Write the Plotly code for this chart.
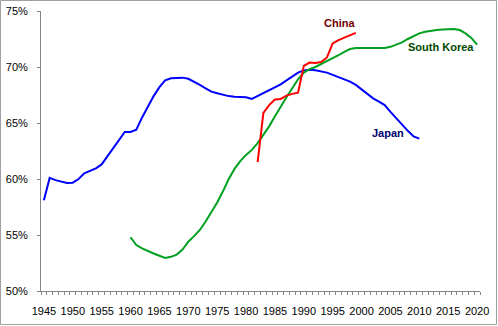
import plotly.graph_objects as go

japan_years = list(range(1945, 2011))
japan_vals = [58.1, 60.1, 59.9, 59.8, 59.65, 59.67, 60.0, 60.5, 60.75, 60.95,
              61.3, 62.0, 62.7, 63.5, 64.2, 64.2, 64.4, 65.5, 66.5, 67.4,
              68.2, 68.8, 69.0, 69.05, 69.05, 68.95, 68.7, 68.4, 68.1, 67.8,
              67.65, 67.5, 67.4, 67.35, 67.35, 67.3, 67.15, 67.4, 67.65, 67.95,
              68.15, 68.45, 68.8, 69.15, 69.5, 69.7, 69.75, 69.7, 69.6, 69.5,
              69.3, 69.1, 68.9, 68.7, 68.4, 68.0, 67.6, 67.2, 66.9, 66.6,
              66.0, 65.4, 64.9, 64.3, 63.8, 63.6]

china_years = list(range(1982, 2000))
china_vals = [61.5, 65.9, 66.6, 67.1, 67.15, 67.45, 67.6, 67.7, 70.1, 70.4,
              70.35, 70.45, 70.85, 72.1, 72.4, 72.6, 72.85, 73.05]

korea_years = list(range(1960, 2021))
korea_vals = [54.8, 54.1, 53.8, 53.55, 53.35, 53.15, 52.95, 53.05, 53.25, 53.7,
              54.4, 54.9, 55.45, 56.2, 57.0, 57.9, 58.9, 60.0, 60.9, 61.6,
              62.15, 62.6, 63.2, 63.9, 64.7, 65.6, 66.5, 67.3, 68.1, 68.9,
              69.5, 69.8, 70.0, 70.25, 70.5, 70.8, 71.05, 71.35, 71.6, 71.7,
              71.7, 71.65, 71.65, 71.65, 71.7, 71.8, 72.0, 72.2, 72.5, 72.75,
              73.0, 73.15, 73.25, 73.3, 73.35, 73.4, 73.4, 73.3, 73.0, 72.6,
              72.0]

x_ticks = list(range(1945, 2021, 5))
y_ticks = [50, 55, 60, 65, 70, 75]
y_labels = [f"{v}%" for v in y_ticks]

fig = go.Figure()
fig.add_trace(go.Scatter(x=japan_years, y=japan_vals, mode="lines",
                         line=dict(color="#0000FF", width=2), name="Japan"))
fig.add_trace(go.Scatter(x=korea_years, y=korea_vals, mode="lines",
                         line=dict(color="#00A020", width=2), name="South Korea"))
fig.add_trace(go.Scatter(x=china_years, y=china_vals, mode="lines",
                         line=dict(color="#FF0000", width=2), name="China"))

font = dict(family="Liberation Sans, Arial, sans-serif", size=11, color="#000000")

annots = [
    dict(x=1996.2, y=73.9, text="<b>China</b>", color="#700000"),
    dict(x=2013.7, y=71.75, text="<b>South Korea</b>", color="#004800"),
    dict(x=2004.5, y=64.1, text="<b>Japan</b>", color="#000070"),
]
for a in annots:
    fig.add_annotation(x=a["x"], y=a["y"], text=a["text"], showarrow=False,
                       xref="x", yref="y",
                       font=dict(family="Liberation Sans, Arial, sans-serif",
                                 size=11, color=a["color"]))

# outer chart border (paper coords relative to plot area 41..480 x 11..291)
fig.add_shape(type="rect", xref="paper", yref="paper",
              x0=(0.5 - 41) / 439, x1=(496.5 - 41) / 439,
              y0=(291 - 324.5) / 280, y1=(291 - 0.5) / 280,
              line=dict(color="#A0A0A0", width=1), layer="above")

fig.update_layout(
    width=498, height=326,
    margin=dict(l=41, r=18, t=11, b=35, autoexpand=False),
    paper_bgcolor="white", plot_bgcolor="white",
    showlegend=False,
    font=font,
    xaxis=dict(range=[1944.5, 2020.5], tickvals=x_ticks,
               ticktext=[str(v) for v in x_ticks],
               showgrid=False, zeroline=False, automargin=False,
               showline=True, linecolor="#868686", linewidth=1,
               ticks="", ticklen=0, ticklabelstandoff=10,
               minor=dict(tick0=1944.5, dtick=1, ticks="outside", ticklen=3,
                          tickcolor="#868686", showgrid=False),
               tickfont=font),
    yaxis=dict(range=[50, 75], tickvals=y_ticks, ticktext=y_labels,
               showgrid=False, zeroline=False, automargin=False,
               showline=True, linecolor="#868686", linewidth=1,
               ticks="outside", ticklen=3, tickcolor="#868686",
               ticklabelstandoff=7,
               tickfont=font),
)

fig.write_html("out.html")
